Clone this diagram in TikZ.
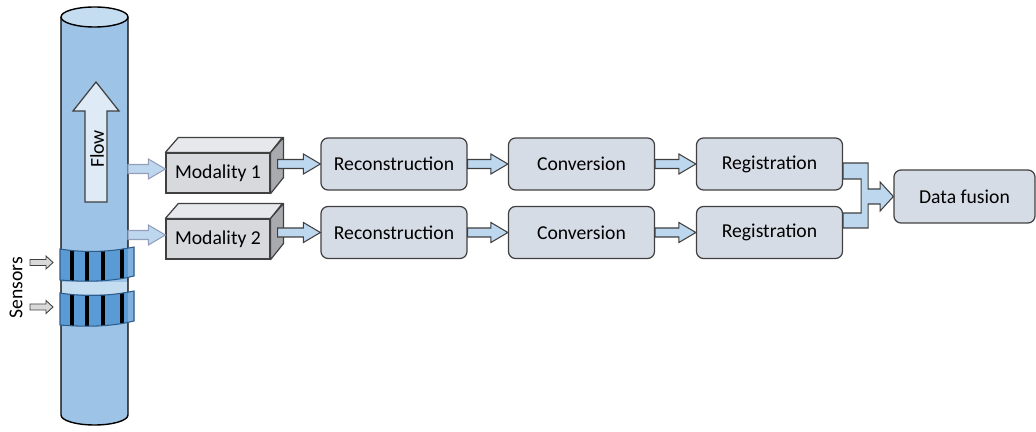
\documentclass[tikz,border=0pt]{standalone}
\usepackage{fontspec}
\setmainfont{Carlito}
\usetikzlibrary{positioning, calc}

\definecolor{pipe}{HTML}{9DC3E6}
\definecolor{pipetop}{HTML}{C5DDF1}
\definecolor{band}{HTML}{5B9BD5}
\definecolor{bandrim}{HTML}{7FB0DE}
\definecolor{bandline}{HTML}{2E5C8A}
\definecolor{boxfill}{HTML}{D6DCE5}
\definecolor{boxline}{HTML}{404040}
\definecolor{arrowfill}{HTML}{BDD7EE}
\definecolor{flowfill}{HTML}{DEEBF7}
\definecolor{cubefront}{HTML}{D7D9DD}
\definecolor{cubetop}{HTML}{E6E8EB}
\definecolor{cubeside}{HTML}{A8AAAE}
\definecolor{sensfill}{HTML}{D9D9D9}

% one pixel of the drawing grid
\newdimen\pxu \pxu=0.02cm

% horizontal block arrow: tail x from #2, tip and height from #3
\newcommand{\fatarrow}[3][]{%
	\draw[fat arrow, #1] let \p1=(#2), \p2=(#3) in
		(\x1,\y2+4.5*\pxu) -- (\x2-17*\pxu,\y2+4.5*\pxu) -- (\x2-17*\pxu,\y2+10*\pxu)
		-- (\x2,\y2) -- (\x2-17*\pxu,\y2-10*\pxu) -- (\x2-17*\pxu,\y2-4.5*\pxu)
		-- (\x1,\y2-4.5*\pxu) -- cycle;}

\begin{document}
\begin{tikzpicture}[x=0.02cm, y=0.02cm, font=\fontsize{11.2}{13}\selectfont,
	stage/.style={draw=boxline, fill=boxfill, rounded corners=0.14cm, line width=0.7pt,
		minimum width=2.92cm, minimum height=1.04cm},
	modality/.style={draw=boxline, fill=cubefront, line width=0.7pt,
		minimum width=2.08cm, minimum height=0.8cm},
	fat arrow/.style={draw=boxline, fill=arrowfill, line width=0.6pt, line join=miter},
	tap arrow/.style={draw=pipe!80!blue!60!black!60, fill=arrowfill}]

	\useasboundingbox (0,0) rectangle (1036,-432);

	% pipe
	\fill[pipe] (61,-17) -- (61,-415) arc[start angle=180, end angle=360, x radius=0.67cm, y radius=0.2cm] -- (128,-17) -- cycle;
	\fill[pipetop] (61,-282) rectangle (128,-294);
	\draw[line width=0.8pt] (61,-17) -- (61,-415) arc[start angle=180, end angle=360, x radius=0.67cm, y radius=0.2cm] -- (128,-17);
	\draw[line width=0.8pt, fill=pipetop] (94.5,-17) ellipse[x radius=0.67cm, y radius=0.2cm];

	% sensor rings
	\foreach \t/\b [count=\i] in {249/280, 293/325} {
		\begin{scope}
			\clip (60,-\t) .. controls (85,-\t-4) and (110,-\t-3) .. (134,-\t+2)
				-- (134,-\b+4) .. controls (110,-\b-2) and (85,-\b-2) .. (60,-\b) -- cycle;
			\fill[band] (55,-\t+8) rectangle (140,-\b-8);
			\fill[bandrim] (128,-\t+8) rectangle (140,-\b-8);
			\foreach \s in {72, 87, 103, 122}
				\fill (\s-2,-\t+8) rectangle (\s+2,-\b-8);
		\end{scope}
		\draw[bandline, line width=0.6pt] (60,-\t) .. controls (85,-\t-4) and (110,-\t-3) .. (134,-\t+2)
			-- (134,-\b+4) .. controls (110,-\b-2) and (85,-\b-2) .. (60,-\b) -- cycle;
		\coordinate (ring-\i) at (53,-\t/2-\b/2+2);
	}

	% sensor pointers
	\foreach \i in {1, 2}
		\draw[boxline, fill=sensfill, line width=0.5pt] (ring-\i) -- ++(-7,6.5) -- ++(0,-3.5) -- ++(-16,0)
			-- ++(0,-6) -- ++(16,0) -- ++(0,-3.5) -- cycle;
	\node[rotate=90] (sensors) at (16,-288) {Sensors};

	% flow direction
	\coordinate (flow-tip) at (96,-82);
	\draw[boxline, fill=flowfill, line width=0.7pt] (flow-tip) -- ++(23,-29) -- ++(-12,0) -- ++(0,-91)
		-- ++(-22,0) -- ++(0,91) -- ++(-12,0) -- cycle;
	\node[rotate=90] (flow) at (97,-149) {Flow};

	% modalities
	\foreach \m/\y in {1/173, 2/239} {
		\node[modality] (mod-\m) at (218,-\y) {Modality \m};
		\draw[boxline, fill=cubetop, line width=0.7pt, line join=round] (mod-\m.north west) -- ++(13,15) -- ++(104,0)
			-- (mod-\m.north east) -- cycle;
		\draw[boxline, fill=cubeside, line width=0.7pt, line join=round] (mod-\m.north east) -- ++(13,15) -- ++(0,-40)
			-- (mod-\m.south east) -- cycle;
		\coordinate (tap-\m) at (128,-\y);
	}

	% processing chain
	\foreach \r/\y in {1/164, 2/232.5} {
		\node[stage] (rec-\r) at (394,-\y) {Reconstruction};
		\node[stage] (con-\r) at (581.5,-\y) {Conversion};
		\node[stage] (reg-\r) at (769.5,-\y) {Registration};
	}
	\node[stage, minimum width=2.82cm, minimum height=1.06cm] (fusion) at (964.5,-196.5) {Data fusion};

	\foreach \r in {1, 2} {
		\fatarrow[tap arrow]{tap-\r}{[yshift=4*\pxu]mod-\r.west}
		\fatarrow{[xshift=7*\pxu]mod-\r.east}{rec-\r.west}
		\fatarrow{rec-\r.east}{con-\r.west}
		\fatarrow{con-\r.east}{reg-\r.west}
	}

	% both registrations merge into the fusion
	\draw[fat arrow] let \p1=(reg-1.east), \p2=(reg-2.east), \p3=(fusion.west) in
		(\x1,\y1+\pxu) -- (\x1+25*\pxu,\y1+\pxu) -- (\x1+25*\pxu,\y3+7.5*\pxu) -- (\x1+37*\pxu,\y3+7.5*\pxu)
		-- (\x1+37*\pxu,\y3+14.5*\pxu) -- (\x3,\y3) -- (\x1+37*\pxu,\y3-14.5*\pxu) -- (\x1+37*\pxu,\y3-7.5*\pxu)
		-- (\x1+25*\pxu,\y3-7.5*\pxu) -- (\x1+25*\pxu,\y2+4.5*\pxu) -- (\x1,\y2+4.5*\pxu) -- (\x1,\y2+19.5*\pxu)
		-- (\x1+18*\pxu,\y2+19.5*\pxu) -- (\x1+18*\pxu,\y1-15*\pxu) -- (\x1,\y1-15*\pxu) -- cycle;

\end{tikzpicture}
\end{document}
